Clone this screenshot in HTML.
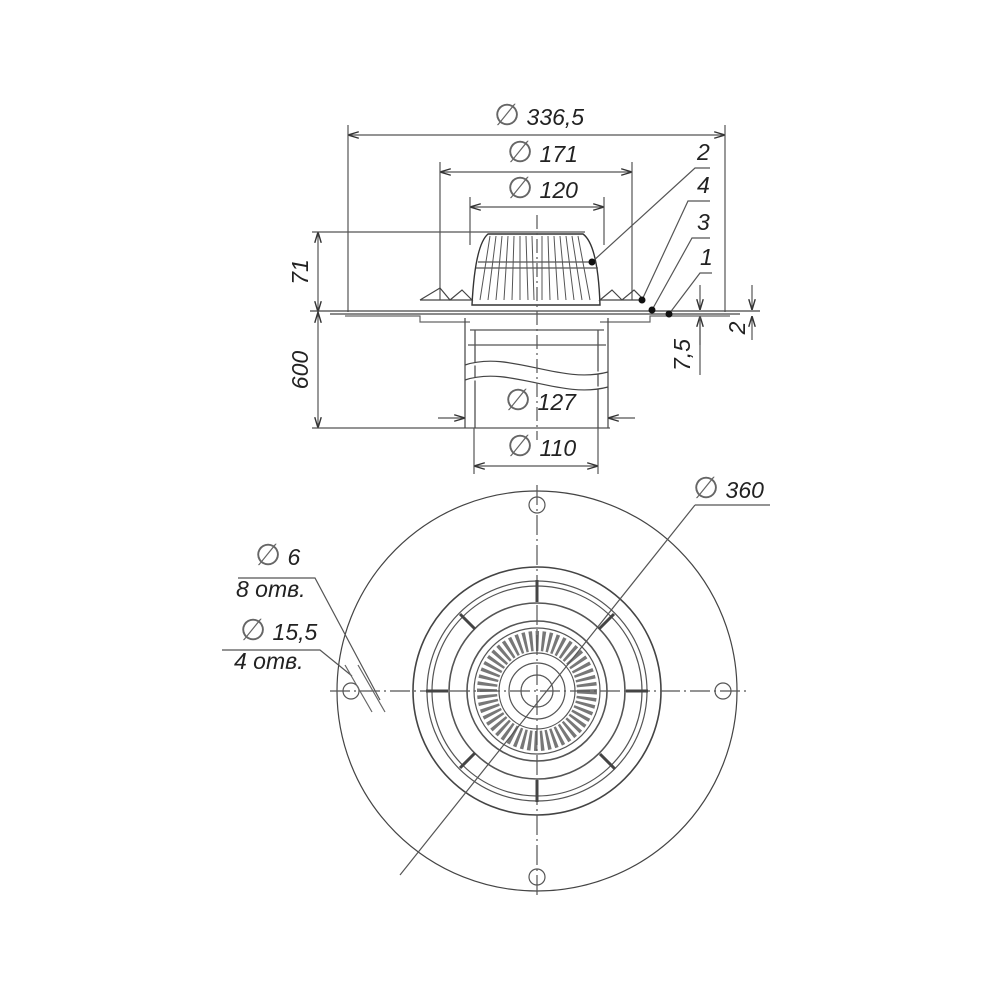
<!DOCTYPE html>
<html><head><style>html,body{margin:0;background:#fff}svg{display:block}
text{font-family:"Liberation Sans",sans-serif;font-style:italic;fill:#222;font-size:23px}
.d{font-size:30px;font-style:normal;fill:#666}</style></head>
<body>
<svg width="1000" height="1000" viewBox="0 0 1000 1000" xmlns="http://www.w3.org/2000/svg">
<defs>
<marker id="a" viewBox="0 0 10 10" refX="10" refY="5" markerWidth="9" markerHeight="9" orient="auto-start-reverse"><path d="M0,2 L10,5 L0,8" fill="none" stroke="#333" stroke-width="1.3"/></marker>
</defs>
<g stroke="#555" stroke-width="1.2" fill="none">
<line x1="348" y1="135" x2="725" y2="135" marker-start="url(#a)" marker-end="url(#a)"/>
<line x1="348" y1="125" x2="348" y2="312"/><line x1="725" y1="125" x2="725" y2="312"/>
<line x1="440" y1="172" x2="632" y2="172" marker-start="url(#a)" marker-end="url(#a)"/>
<line x1="440" y1="162" x2="440" y2="300"/><line x1="632" y1="162" x2="632" y2="300"/>
<line x1="470" y1="207" x2="604" y2="207" marker-start="url(#a)" marker-end="url(#a)"/>
<line x1="470" y1="197" x2="470" y2="245"/><line x1="604" y1="197" x2="604" y2="245"/>
<line x1="318" y1="232" x2="318" y2="312" marker-start="url(#a)" marker-end="url(#a)"/>
<line x1="318" y1="312" x2="318" y2="428" marker-start="url(#a)" marker-end="url(#a)"/>
<line x1="312" y1="232" x2="585" y2="232"/><line x1="312" y1="428" x2="610" y2="428"/>
<line x1="438" y1="418" x2="465" y2="418" marker-end="url(#a)"/><line x1="635" y1="418" x2="608" y2="418" marker-end="url(#a)"/>
<line x1="474" y1="466" x2="598" y2="466" marker-start="url(#a)" marker-end="url(#a)"/>
<line x1="474" y1="428" x2="474" y2="474"/><line x1="598" y1="428" x2="598" y2="474"/>
<line x1="700" y1="285" x2="700" y2="310" marker-end="url(#a)"/><line x1="700" y1="345" x2="700" y2="316" marker-end="url(#a)"/><line x1="700" y1="316" x2="700" y2="375"/>
<line x1="752" y1="285" x2="752" y2="310" marker-end="url(#a)"/><line x1="752" y1="340" x2="752" y2="316" marker-end="url(#a)"/>
<path d="M310,311 L760,311 M330,314 L740,314" stroke="#444"/>
<path d="M345,316 L420,316 L420,322 L470,322 M600,322 L650,322 L650,316 L730,316" stroke="#666"/>
<path d="M472,305 Q475,245 488,234 L583,234 Q598,245 600,305 Z" stroke="#333" stroke-width="1.4"/>
<line x1="478" y1="262" x2="596" y2="262"/><line x1="476" y1="268" x2="598" y2="268"/>
<g stroke="#555" stroke-width="1">
<path d="M490,236 L480,300 M496,236 L488,300 M502,236 L496,300 M508,236 L504,300 M514,236 L512,300 M520,236 L520,300 M526,236 L528,300 M532,236 L534,300 M542,236 L542,300 M548,236 L550,300 M554,236 L558,300 M560,236 L566,300 M566,236 L574,300 M572,236 L582,300 M578,236 L590,300"/>
</g>
<path d="M420,300 l20,-12 l10,12 l12,-10 l10,10 l-52,0 M600,300 l12,-10 l10,10 l12,-10 l10,10 Z" stroke="#444"/>
<path d="M465,318 L465,428 M608,318 L608,428 M475,330 L475,428 M598,330 L598,428" stroke="#444"/>
<path d="M470,330 L604,330 M468,345 L606,345" />
<path d="M465,365 C510,350 560,385 608,372 M465,380 C510,365 560,400 608,387" stroke="#444" fill="#fff"/>
<line x1="537" y1="215" x2="537" y2="440" stroke-dasharray="14,4,2,4"/>
<path d="M592,262 L695,168 L710,168 M642,300 L688,201 L710,201 M652,310 L692,238 L710,238 M669,314 L700,273 L712,273"/>
</g>
<g fill="#111"><circle cx="592" cy="262" r="3.5"/><circle cx="642" cy="300" r="3.5"/><circle cx="652" cy="310" r="3.5"/><circle cx="669" cy="314" r="3.5"/></g>
<text x="494" y="125"><tspan class="d">∅</tspan> 336,5</text>
<text x="507" y="162"><tspan class="d">∅</tspan> 171</text>
<text x="507" y="198"><tspan class="d">∅</tspan> 120</text>
<text x="505" y="410"><tspan class="d">∅</tspan> 127</text>
<text x="507" y="456"><tspan class="d">∅</tspan> 110</text>
<text x="697" y="160">2</text><text x="697" y="193">4</text><text x="697" y="230">3</text><text x="700" y="265">1</text>
<text transform="translate(308,272) rotate(-90)" text-anchor="middle">71</text>
<text transform="translate(308,370) rotate(-90)" text-anchor="middle">600</text>
<text transform="translate(690,355) rotate(-90)" text-anchor="middle">7,5</text>
<text transform="translate(745,328) rotate(-90)" text-anchor="middle">2</text>
<g stroke="#555" stroke-width="1.2" fill="none">
<circle cx="537" cy="691" r="200" stroke="#444"/>
<circle cx="537" cy="691" r="124" stroke="#444" stroke-width="1.6"/>
<circle cx="537" cy="691" r="110"/>
<circle cx="537" cy="691" r="105"/>
<circle cx="537" cy="691" r="88" stroke-width="1.6"/>
<circle cx="537" cy="691" r="70" stroke-width="1.6"/>
<circle cx="537" cy="691" r="63"/>
<circle cx="537" cy="691" r="38"/>
<circle cx="537" cy="691" r="28"/>
<circle cx="537" cy="691" r="16"/>
<circle cx="537" cy="691" r="50" stroke="#777" stroke-width="20" stroke-dasharray="3,3"/>
<line x1="330" y1="691" x2="750" y2="691" stroke-dasharray="20,4,2,4"/>
<line x1="537" y1="485" x2="537" y2="895" stroke-dasharray="20,4,2,4"/>
<line x1="400" y1="875" x2="695" y2="505"/><line x1="695" y1="505" x2="770" y2="505"/>
<circle cx="537" cy="505" r="8"/><circle cx="537" cy="877" r="8"/><circle cx="351" cy="691" r="8"/><circle cx="723" cy="691" r="8"/>
<path d="M238,578 L315,578 L380,700 M222,650 L320,650 L352,676"/>
<path d="M345,665 L372,712 M358,665 L385,712" stroke="#666"/>
</g>
<g stroke="#444" stroke-width="3" fill="#fff">
<path d="M537,580 v22 M537,780 v22 M426,691 h22 M626,691 h22 M460,614 l15,15 M600,754 l15,15 M614,614 l-15,15 M460,768 l15,-15"/>
</g>
<text x="693" y="498"><tspan class="d">∅</tspan> 360</text>
<text x="255" y="565"><tspan class="d">∅</tspan> 6</text>
<text x="236" y="597">8  отв.</text>
<text x="240" y="640"><tspan class="d">∅</tspan> 15,5</text>
<text x="234" y="669">4  отв.</text>
</svg>
</body></html>
